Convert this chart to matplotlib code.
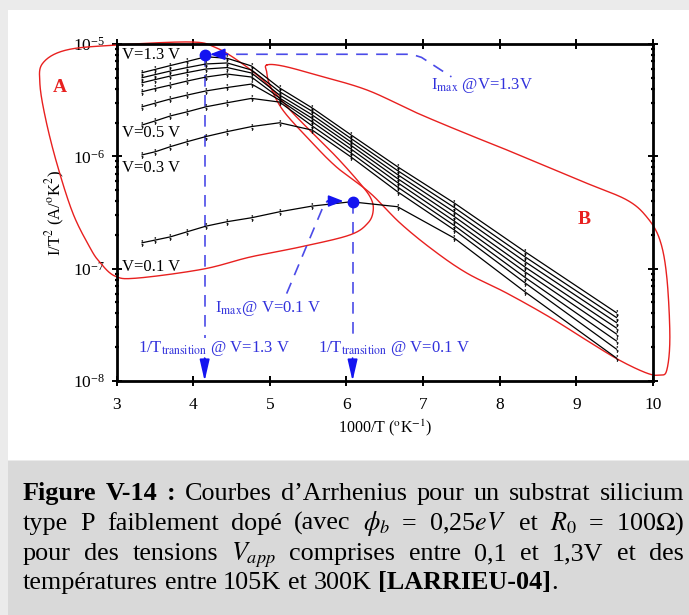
import numpy as np
import matplotlib.pyplot as plt
from matplotlib.patches import Rectangle

plt.rcParams['font.family'] = 'Liberation Serif'
plt.rcParams['mathtext.fontset'] = 'stix'

# measurement temperatures (K), x axis is 1000/T
temps_K = [300, 285, 270, 255, 240, 225, 210, 195, 180, 165, 150, 135, 120, 105]

# I/T^2 (A/K^2), top curve (1.3 V) first
i_13 = [5.55e-6, 5.95e-6, 6.43e-6, 6.99e-6, 7.7e-6, 7.46e-6, 6.37e-6, 4.06e-6, 2.69e-6, 1.55e-6, 8.08e-7, 3.84e-7, 1.41e-7, 4.05e-8]
i_c2 = [5.01e-6, 5.35e-6, 5.75e-6, 6.17e-6, 6.64e-6, 6.78e-6, 5.87e-6, 3.76e-6, 2.51e-6, 1.44e-6, 7.47e-7, 3.50e-7, 1.27e-7, 3.67e-8]
i_c3 = [4.52e-6, 4.83e-6, 5.19e-6, 5.57e-6, 5.99e-6, 6.17e-6, 5.52e-6, 3.51e-6, 2.33e-6, 1.34e-6, 6.88e-7, 3.19e-7, 1.15e-7, 3.31e-8]
i_c4 = [3.76e-6, 4.02e-6, 4.31e-6, 4.68e-6, 5.08e-6, 5.40e-6, 5.08e-6, 3.30e-6, 2.17e-6, 1.25e-6, 6.34e-7, 2.91e-7, 1.03e-7, 2.96e-8]
i_c5 = [2.76e-6, 2.98e-6, 3.24e-6, 3.51e-6, 3.82e-6, 4.10e-6, 4.40e-6, 3.17e-6, 2.02e-6, 1.16e-6, 5.84e-7, 2.65e-7, 9.33e-8, 2.62e-8]
i_05 = [1.90e-6, 2.07e-6, 2.29e-6, 2.49e-6, 2.76e-6, 3.00e-6, 3.28e-6, 3.04e-6, 1.86e-6, 1.07e-6, 5.33e-7, 2.42e-7, 8.33e-8, 2.27e-8]
i_03 = [1.03e-6, 1.10e-6, 1.22e-6, 1.35e-6, 1.50e-6, 1.66e-6, 1.84e-6, 1.99e-6, 1.71e-6, 9.86e-7, 4.84e-7, 2.21e-7, 7.44e-8, 1.92e-8]
i_01 = [1.70e-7, 1.80e-7, 1.92e-7, 2.13e-7, 2.39e-7, 2.62e-7, 2.84e-7, 3.21e-7, 3.61e-7, 3.94e-7, 3.56e-7, 1.87e-7, 6.19e-8, 1.60e-8]

curves = [i_13, i_c2, i_c3, i_c4, i_c5, i_05, i_03, i_01]
curve_labels = ['V=1.3 V', None, None, None, None, 'V=0.5 V', 'V=0.3 V', 'V=0.1 V']

# maxima marked in blue
imax_x = [4.15, 6.08]
imax_y = [7.9e-6, 3.94e-7]

# hand drawn zones (x = 1000/T, log10 of I/T^2)
zone_a_x = [3.01, 3.96, 4.28, 4.61, 4.95, 5.30, 5.61, 5.87, 6.14, 6.31, 6.35, 6.28, 6.04, 5.39,
            4.74, 4.13, 3.27, 2.98, 2.78, 2.65, 2.43, 2.22, 2.07, 2.00, 2.04, 2.35]
zone_a_log = [-5.009, -4.982, -5.027, -5.160, -5.347, -5.614, -5.828, -6.006, -6.211, -6.362, -6.478,
              -6.594, -6.701, -6.808, -6.897, -7.004, -7.084, -7.066, -6.941, -6.808, -6.505, -6.060,
              -5.650, -5.347, -5.169, -5.053]
zone_b_x = [4.96, 5.17, 5.61, 6.27, 6.92, 7.57, 8.00, 8.43, 9.13, 9.66, 9.92, 10.09, 10.18, 10.22,
            10.18, 10.09, 9.92, 9.56, 9.13, 8.65, 8.09, 7.57, 7.13, 6.70, 6.31, 5.87, 5.52, 5.17, 5.00, 4.96]
zone_b_log = [-5.187, -5.196, -5.276, -5.410, -5.614, -5.800, -5.917, -6.040, -6.238, -6.389, -6.541,
              -6.745, -7.075, -7.609, -7.903, -7.947, -7.930, -7.814, -7.636, -7.431, -7.217, -7.039,
              -6.834, -6.594, -6.327, -6.095, -5.855, -5.588, -5.365, -5.249]


def smooth_loop(x, y, n=24):
    # closed Catmull-Rom curve through the points
    P = np.column_stack([x, y])
    N = len(P)
    t = np.linspace(0, 1, n, endpoint=False)[:, None]
    parts = []
    for i in range(N):
        p0, p1, p2, p3 = P[i - 1], P[i], P[(i + 1) % N], P[(i + 2) % N]
        parts.append(0.5 * (2 * p1 + (-p0 + p2) * t + (2 * p0 - 5 * p1 + 4 * p2 - p3) * t ** 2
                            + (-p0 + 3 * p1 - 3 * p2 + p3) * t ** 3))
    out = np.vstack(parts + [parts[0][:1]])
    return out[:, 0], out[:, 1]


W, H = 689, 615
fig = plt.figure(figsize=(W / 100, H / 100), dpi=100)
fig.patch.set_facecolor('#ebebeb')
fig.patches.append(Rectangle((8 / W, 1 - 460 / H), 1, 450 / H, transform=fig.transFigure,
                             facecolor='white', edgecolor='none', zorder=-2))
fig.patches.append(Rectangle((8 / W, 0), 1, 1 - 461 / H, transform=fig.transFigure,
                             facecolor='#d9d9d9', edgecolor='none', zorder=-2))

ax = fig.add_axes([116.5 / W, 1 - 381 / H, (653 - 116.5) / W, (381 - 44) / H])
ax.set_facecolor('none')

x = 1000.0 / np.array(temps_K)
for vals in curves:
    ax.plot(x, vals, color='black', lw=0.9, marker='$;$', markersize=4.5,
            markeredgewidth=0.3, zorder=3)

ax.set_yscale('log')
ax.set_xlim(3, 10)
ax.set_ylim(1e-8, 1e-5)
ax.set_xticks(range(3, 11))
for s in ax.spines.values():
    s.set_linewidth(2)
ax.tick_params(which='major', direction='inout', length=7, width=1.4, top=True, right=True,
               labelsize=12.5, pad=5)
ax.tick_params(axis='x', which='major', pad=8)
ax.tick_params(which='minor', direction='inout', length=2.5, width=1.6, top=True, right=True)
ax.set_xlabel('1000/T ($^{\\mathrm{o}}$K$^{-1}$)', fontsize=11.5, labelpad=3)
ax.set_ylabel('I/T$^2$ (A/$^{\\mathrm{o}}$K$^2$)', fontsize=12, labelpad=4)

# voltage labels
label_y = {'V=1.3 V': 8.0e-6, 'V=0.5 V': 1.61e-6, 'V=0.3 V': 7.9e-7, 'V=0.1 V': 1.03e-7}
for lab in curve_labels:
    if lab:
        ax.text(3.07, label_y[lab], lab, fontsize=12, ha='left', va='center', zorder=4)

# red zones
red = '#e8201f'
for zx, zl in [(zone_a_x, zone_a_log), (zone_b_x, zone_b_log)]:
    sx, sl = smooth_loop(zx, zl)
    ax.plot(sx, np.power(10.0, sl), color=red, lw=1.0, clip_on=False, zorder=2)
ax.text(2.26, 10 ** -5.39, 'A', color=red, fontsize=14, fontweight='bold', ha='center', va='center')
ax.text(9.1, 10 ** -6.56, 'B', color=red, fontsize=14, fontweight='bold', ha='center', va='center')

# blue annotations
blue = '#1414f0'
dash_c = '#4b4be8'
txt_c = '#3232dc'
dash = (0, (7, 5))
ax.plot(imax_x, imax_y, 'o', color=blue, markersize=7.5, zorder=6)

# vertical guides to the axis
for xv, yv in zip(imax_x, imax_y):
    ax.plot([xv, xv], [yv, 1.5e-8], color=dash_c, lw=1.2, ls=dash, zorder=1)
    ax.annotate('', xy=(xv, 1e-8), xytext=(xv, 1.6e-8),
                arrowprops=dict(arrowstyle='-|>,head_length=1.3,head_width=0.3',
                                color=blue, lw=1.2, shrinkA=0, shrinkB=0), zorder=6)

# I_max @ 1.3 V pointer
ax.plot([4.3, 6.85, 6.98, 7.37], [8.1e-6, 8.1e-6, 7.6e-6, 5.1e-6], color=dash_c, lw=1.2, ls=dash)
ax.annotate('', xy=(4.22, 8.1e-6), xytext=(4.45, 8.1e-6),
            arrowprops=dict(arrowstyle='-|>,head_length=0.9,head_width=0.35',
                            color=blue, lw=1.2, shrinkA=0, shrinkB=0), zorder=6)
ax.text(7.77, 4.31e-6, 'I$_{\\mathrm{max}}$ @V=1.3V', color=txt_c, fontsize=12, ha='center', va='center')

# I_max @ 0.1 V pointer
ax.plot([5.22, 5.72, 5.80], [6.0e-8, 3.9e-7, 4.0e-7], color=dash_c, lw=1.2, ls=dash)
ax.annotate('', xy=(5.96, 4.0e-7), xytext=(5.75, 4.0e-7),
            arrowprops=dict(arrowstyle='-|>,head_length=0.9,head_width=0.35',
                            color=blue, lw=1.2, shrinkA=0, shrinkB=0), zorder=6)
ax.text(4.98, 4.46e-8, 'I$_{\\mathrm{max}}$@ V=0.1 V', color=txt_c, fontsize=12, ha='center', va='center')

box = dict(facecolor='white', edgecolor='none', pad=0.5)
ax.text(4.27, 1.96e-8, '1/T$_{\\mathrm{transition}}$ @ V=1.3 V', color=txt_c, fontsize=12,
        ha='center', va='center', bbox=box, zorder=5)
ax.text(6.62, 1.96e-8, '1/T$_{\\mathrm{transition}}$ @ V=0.1 V', color=txt_c, fontsize=12,
        ha='center', va='center', bbox=box, zorder=5)

# caption, justified like the original
caption = [
    ([('Figure', 1, 0), ('V-14', 1, 0), (':', 1, 0), ('Courbes', 0, 0), ('d’Arrhenius', 0, 0),
      ('pour', 0, 0), ('un', 0, 0), ('substrat', 0, 0), ('silicium', 0, 0)], True),
    ([('type', 0, 0), ('P', 0, 0), ('faiblement', 0, 0), ('dopé', 0, 0), ('(avec', 0, 0),
      ('$\\phi_b$', 0, 0), ('=', 0, 0), ('0,25$eV$', 0, 0), ('et', 0, 0), ('$R_0$', 0, 0),
      ('=', 0, 0), ('100$\\Omega$)', 0, 0)], True),
    ([('pour', 0, 0), ('des', 0, 0), ('tensions', 0, 0), ('$V_{app}$', 0, 0), ('comprises', 0, 0),
      ('entre', 0, 0), ('0,1', 0, 0), ('et', 0, 0), ('1,3V', 0, 0), ('et', 0, 0), ('des', 0, 0)], True),
    ([('températures', 0, 0), ('entre', 0, 0), ('105K', 0, 0), ('et', 0, 0), ('300K', 0, 0),
      ('[LARRIEU-04]', 1, 0), ('.', 0, 1)], False),
]
cap_fs = 18.8
left_px, right_px = 23, 684
base_px = [500, 530, 560, 589]
fig.canvas.draw()
renderer = fig.canvas.get_renderer()
space = cap_fs * 100 / 72 * 0.25
for (tokens, justify), yb in zip(caption, base_px):
    texts = []
    for tok, bold, glue in tokens:
        texts.append(fig.text(0, 1 - yb / H, tok, fontsize=cap_fs, va='baseline',
                              fontweight='bold' if bold else 'normal'))
    widths = [t.get_window_extent(renderer).width for t in texts]
    n_gaps = sum(1 for tok in tokens[1:] if not tok[2])
    gap = (right_px - left_px - sum(widths)) / n_gaps if justify else space
    xp = left_px
    for t, w, tok in zip(texts, widths, tokens):
        if tok[2]:
            xp -= gap
        t.set_x(xp / W)
        xp += w + gap

fig.savefig('out.png', dpi=100, facecolor=fig.get_facecolor())
